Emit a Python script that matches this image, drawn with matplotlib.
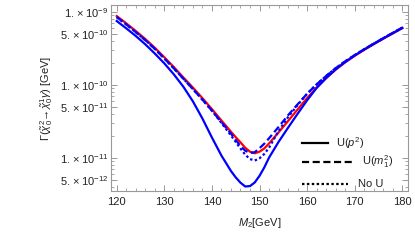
import matplotlib
matplotlib.use("Agg")
import matplotlib.pyplot as plt
from matplotlib.ticker import FixedLocator, NullFormatter, FixedFormatter

# ---- data ----
m2 = [120, 122, 124, 126, 128, 130, 132, 134, 136, 138, 140, 142, 144, 145, 146, 147, 148,
      149, 150, 151, 152, 154, 156, 158, 160, 162, 164, 166, 168, 170, 172, 174, 176, 178, 180]

red = [8.81e-10, 7.00e-10, 5.50e-10, 4.27e-10, 3.24e-10, 2.40e-10, 1.76e-10, 1.27e-10,
       9.23e-11, 6.61e-11, 4.68e-11, 3.27e-11, 2.29e-11, 1.93e-11, 1.64e-11, 1.38e-11, 1.22e-11,
       1.16e-11, 1.22e-11, 1.35e-11, 1.58e-11, 2.24e-11, 3.21e-11, 4.62e-11, 6.61e-11, 9.23e-11,
       1.245e-10, 1.62e-10, 2.04e-10, 2.51e-10, 3.03e-10, 3.62e-10, 4.30e-10, 5.08e-10, 6.00e-10]

u_m1 = [8.51e-10, 6.76e-10, 5.31e-10, 4.12e-10, 3.13e-10, 2.31e-10, 1.69e-10, 1.22e-10,
        8.81e-11, 6.31e-11, 4.45e-11, 3.10e-11, 2.16e-11, 1.77e-11, 1.46e-11, 1.26e-11, 1.17e-11,
        1.20e-11, 1.36e-11, 1.57e-11, 1.86e-11, 2.66e-11, 3.85e-11, 5.43e-11, 7.59e-11, 1.02e-10,
        1.33e-10, 1.70e-10, 2.11e-10, 2.57e-10, 3.09e-10, 3.69e-10, 4.38e-10, 5.18e-10, 6.11e-10]

no_u = [8.51e-10, 6.76e-10, 5.31e-10, 4.12e-10, 3.13e-10, 2.31e-10, 1.69e-10, 1.22e-10,
        8.81e-11, 6.31e-11, 4.45e-11, 3.02e-11, 2.04e-11, 1.66e-11, 1.35e-11, 1.11e-11, 9.66e-12,
        9.23e-12, 9.89e-12, 1.135e-11, 1.38e-11, 2.34e-11, 3.63e-11, 5.31e-11, 7.59e-11, 1.02e-10,
        1.33e-10, 1.70e-10, 2.11e-10, 2.57e-10, 3.09e-10, 3.69e-10, 4.38e-10, 5.18e-10, 6.11e-10]

u_p2 = [7.53e-10, 5.98e-10, 4.70e-10, 3.61e-10, 2.70e-10, 1.98e-10, 1.40e-10, 9.48e-11,
        5.98e-11, 3.48e-11, 1.91e-11, 1.08e-11, 6.64e-12, 5.43e-12, 4.59e-12, 4.07e-12, 4.12e-12,
        4.62e-12, 5.69e-12, 7.41e-12, 1.01e-11, 1.66e-11, 2.60e-11, 4.03e-11, 6.17e-11, 9.12e-11,
        1.245e-10, 1.64e-10, 2.07e-10, 2.54e-10, 3.07e-10, 3.66e-10, 4.35e-10, 5.14e-10, 6.07e-10]

x_ticks = [120, 130, 140, 150, 160, 170, 180]
y_ticks = [5e-12, 1e-11, 5e-11, 1e-10, 5e-10, 1e-9]
y_tick_labels = [r"$5.\times10^{-12}$", r"$1.\times10^{-11}$", r"$5.\times10^{-11}$",
                 r"$1.\times10^{-10}$", r"$5.\times10^{-10}$", r"$1.\times10^{-9}$"]
legend_labels = [r"U($p^2$)", r"U($m_1^2$)", "No U"]

# ---- figure ----
plt.rcParams['font.family'] = ['Liberation Sans', 'DejaVu Sans']
plt.rcParams['mathtext.fontset'] = 'custom'
plt.rcParams['mathtext.rm'] = 'Liberation Sans'
plt.rcParams['mathtext.it'] = 'Liberation Sans:italic'
plt.rcParams['mathtext.sf'] = 'Liberation Sans'

fig = plt.figure(figsize=(4.15, 2.4), dpi=100)
ax = fig.add_axes([111/415, 1-191/240, 297/415, 186/240])

lw = 1.6
ax.plot(m2, red, color=(1, 0, 0), lw=lw, solid_joinstyle='round')
ax.plot(m2, u_m1, color=(0, 0, 1), lw=lw, ls=(0, (3.2, 1.6)))
ax.plot(m2, no_u, color=(0, 0, 1), lw=lw, ls=(0, (1.1, 1.1)))
ax.plot(m2, u_p2, color=(0, 0, 1), lw=lw, solid_joinstyle='round')

ax.set_yscale('log')
ax.set_xlim(118.8, 181.2)
ax.set_ylim(3.53e-12, 1.248e-9)

frame_c = '#999999'
for s in ax.spines.values():
    s.set_color(frame_c)
    s.set_linewidth(0.8)

ax.xaxis.set_major_locator(FixedLocator(x_ticks))
ax.xaxis.set_minor_locator(FixedLocator([v for v in range(118, 182, 2) if v % 10]))
ax.yaxis.set_major_locator(FixedLocator(y_ticks))
ax.yaxis.set_major_formatter(FixedFormatter(y_tick_labels))
minor_y = []
for e in (-12, -11, -10, -9):
    for m in (2, 3, 4, 6, 7, 8, 9):
        minor_y.append(m * 10.0**e)
ax.yaxis.set_minor_locator(FixedLocator(minor_y))
ax.yaxis.set_minor_formatter(NullFormatter())

ax.tick_params(which='both', direction='in', top=True, right=True, color=frame_c,
               labelsize=8, labelcolor='#222222')
ax.tick_params(axis='x', which='both', pad=4)
ax.tick_params(axis='y', which='both', pad=2)
ax.tick_params(which='major', length=4, width=0.7)
ax.tick_params(which='minor', length=2, width=0.6)

ax.set_xlabel(r"$M_2$[GeV]", fontsize=8, color='#222222', labelpad=7)
ax.set_ylabel(r"$\Gamma(\tilde{\chi}^2_0\!\rightarrow\!\tilde{\chi}^1_0\gamma)$ [GeV]",
              fontsize=8, color='#222222', labelpad=3)

# legend drawn in axes coordinates
leg_y = [0.258, 0.156, 0.038]
leg_x1 = [0.731, 0.811, 0.798]
leg_tx = [0.758, 0.845, 0.832]
leg_ls = ['-', (0, (3.2, 1.6)), (0, (1.1, 1.1))]
for yv, x1, tx, ls, lab in zip(leg_y, leg_x1, leg_tx, leg_ls, legend_labels):
    ax.plot([0.643, x1], [yv, yv], transform=ax.transAxes, color='black', lw=lw, ls=ls)
    ax.text(tx, yv, lab, transform=ax.transAxes, fontsize=8, va='center', ha='left',
            color='#222222')

fig.savefig("out.png", dpi=100)
